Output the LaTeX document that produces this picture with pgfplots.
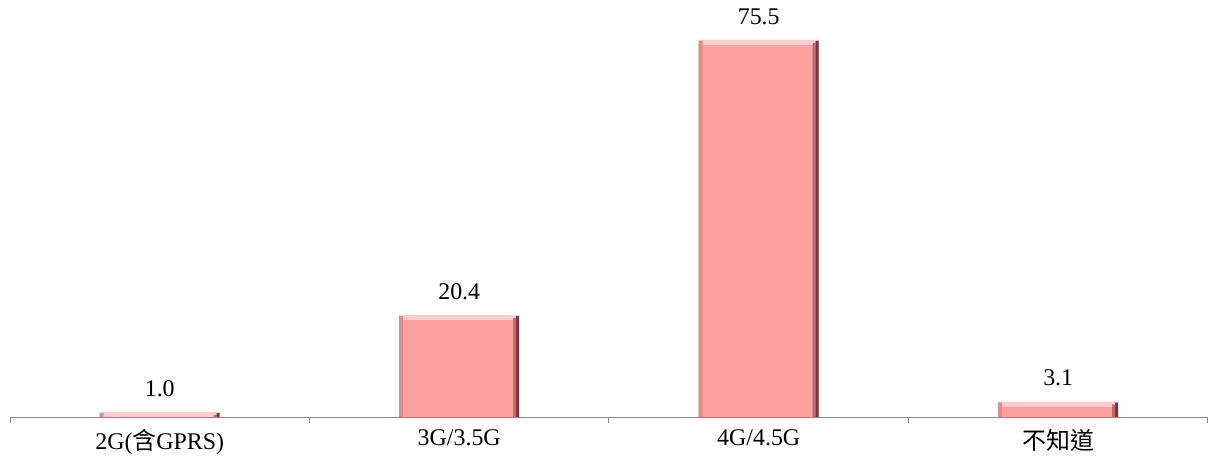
\documentclass[border=0pt]{standalone}
\usepackage{pgfplots}
\pgfplotsset{compat=1.18}
\usepackage{fontspec}
\setmainfont{Liberation Serif}
\newfontfamily\cjk{Noto Sans CJK TC}
\definecolor{barpink}{RGB}{255,160,160}
\definecolor{bevtop}{RGB}{255,205,205}
\definecolor{bevleft}{RGB}{228,138,138}
\definecolor{bevmid}{RGB}{185,108,108}
\definecolor{bevright}{RGB}{110,60,60}
\definecolor{axgray}{RGB}{140,140,140}
\pgfplotstableread{
x   y
0.5 1.0
1.5 20.4
2.5 75.5
3.5 3.1
}\bardata
\begin{document}
\begin{tikzpicture}[font=\fontsize{24}{28}\selectfont]
\path[use as bounding box] (0,0) rectangle (1208bp,462bp);
\begin{axis}[
  at={(10bp,45bp)}, anchor=south west,
  scale only axis, width=1198bp, height=417bp,
  xmin=0, xmax=4, ymin=0, ymax=83.5,
  axis x line*=bottom, axis y line=none,
  axis line style={draw=axgray, line width=1pt},
  xtick={0.5,1.5,2.5,3.5},
  xticklabels={2G({\cjk 含}GPRS), 3G/3.5G, 4G/4.5G, {\cjk 不知道}},
  major tick length=0pt,
  minor xtick={0,1,2,3,4},
  minor tick length=6bp,
  tick align=outside,
  minor tick style={draw=axgray, line width=1pt},
  xticklabel style={yshift=-9bp},
  ybar, bar width=120bp,
  every node near coord/.append style={anchor=south, yshift=12bp, font=\fontsize{24}{28}\selectfont, black},
]
\addplot[fill=bevtop, draw=none, bar shift=0pt,
  nodes near coords, nodes near coords={\pgfmathprintnumber[fixed,fixed zerofill,precision=1,assume math mode=true]{\pgfplotspointmeta}}]
  table[x=x,y=y] {\bardata};
\addplot[fill=barpink, draw=none, bar shift=0pt, yshift=-5bp] table[x=x,y=y] {\bardata};
\addplot[fill=bevleft, draw=none, bar width=4bp, bar shift=-58bp, yshift=-1bp] table[x=x,y=y] {\bardata};
\addplot[fill=bevmid, draw=none, bar width=3.2bp, bar shift=55.4bp, yshift=-3bp] table[x=x,y=y] {\bardata};
\addplot[fill=bevright, draw=none, bar width=3bp, bar shift=58.5bp, yshift=-1bp] table[x=x,y=y] {\bardata};
\end{axis}
\end{tikzpicture}
\end{document}
